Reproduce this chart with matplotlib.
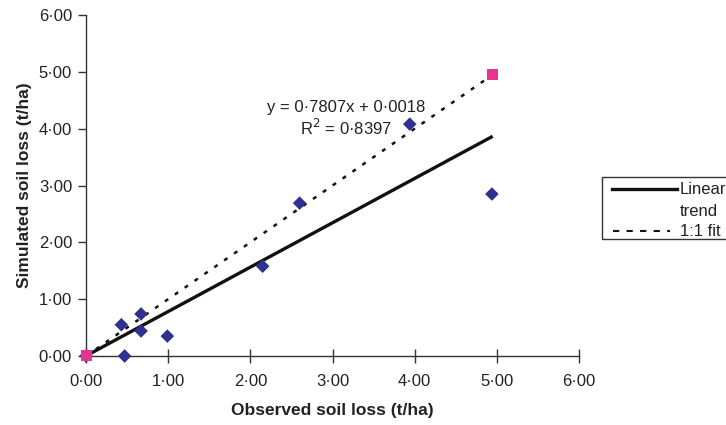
import matplotlib
matplotlib.use("Agg")
import matplotlib.pyplot as plt
from matplotlib.ticker import FuncFormatter, MultipleLocator
from matplotlib.lines import Line2D
from matplotlib.patches import Rectangle
import numpy as np

plt.rcParams['font.family'] = ['Liberation Sans', 'DejaVu Sans']

# Data
observed = [0.00, 0.43, 0.47, 0.67, 0.67, 0.99, 2.15, 2.60, 3.94, 4.94]
simulated = [0.00, 0.55, 0.00, 0.74, 0.44, 0.35, 1.58, 2.69, 4.08, 2.85]
fit_pts_x = [0.01, 4.95]
fit_pts_y = [0.01, 4.96]
slope = 0.7807
intercept = 0.0018
r2 = 0.8397
trend_x = [0.0, 4.95]
one_x = [0.0, 4.95]

W, H = 726, 425
fig = plt.figure(figsize=(W / 100, H / 100), dpi=100)
ax = fig.add_axes([86 / W, 1 - 356 / H, (579 - 86) / W, (356 - 15) / H])

navy = '#2E3192'
pink = '#E8348E'

tx = np.array(trend_x)
ax.plot(tx, slope * tx + intercept, color='#111111', lw=2.4, solid_capstyle='butt', zorder=3)
ax.plot(one_x, one_x, color='#111111', lw=1.8, ls=(0, (1.6, 3.2)), zorder=3)
ax.scatter(observed, simulated, marker='D', s=48, color=navy, edgecolors='none', zorder=4, clip_on=False)
ax.scatter(fit_pts_x, fit_pts_y, marker='s', s=64, color=pink, edgecolors='none', zorder=5, clip_on=False)

ax.set_xlim(0, 6)
ax.set_ylim(0, 6)
fmt = FuncFormatter(lambda v, p: f"{v:.2f}".replace('.', '\u00b7'))
ax.xaxis.set_major_locator(MultipleLocator(1))
ax.yaxis.set_major_locator(MultipleLocator(1))
ax.xaxis.set_major_formatter(fmt)
ax.yaxis.set_major_formatter(fmt)
for s in ['top', 'right']:
    ax.spines[s].set_visible(False)
for s in ['left', 'bottom']:
    ax.spines[s].set_color('#333333')
    ax.spines[s].set_linewidth(1.0)
ax.tick_params(axis='x', direction='inout', length=10, width=1, colors='#333333', labelsize=12, labelcolor='#222222', pad=8)
ax.tick_params(axis='y', direction='out', length=6, width=1, colors='#333333', labelsize=12, labelcolor='#222222', pad=4)
ax.set_xlabel('Observed soil loss (t/ha)', fontsize=12.5, fontweight='bold', color='#222222')
ax.set_ylabel('Simulated soil loss (t/ha)', fontsize=12.5, fontweight='bold', color='#222222')
ax.xaxis.set_label_coords(0.5, (356 - 403) / (356 - 15))
ax.yaxis.set_label_coords((32 - 86) / (579 - 86), 0.5)

ax.text(3.16, 4.37, f"y = {slope:.4f}x + {intercept:.4f}".replace('.', '\u00b7'),
        ha='center', va='center', fontsize=12, color='#222222')
ax.text(3.16, 4.01, f"R$^2$ = {r2:.4f}".replace('.', '\u00b7'),
        ha='center', va='center', fontsize=12, color='#222222')

# Legend box (figure coordinates)
fig.patches.append(Rectangle((602 / W, 1 - 239 / H), (760 - 602) / W, (239 - 177) / H,
                             transform=fig.transFigure, fill=False, edgecolor='#333333', lw=1.0))
fig.lines.append(Line2D([612 / W, 677 / W], [1 - 189 / H] * 2, transform=fig.transFigure,
                        color='#111111', lw=2.4))
fig.lines.append(Line2D([613 / W, 670 / W], [1 - 231 / H] * 2, transform=fig.transFigure,
                        color='#111111', lw=1.5, ls=(0, (3, 3.5))))
fig.text(680 / W, 1 - 189 / H, 'Linear', fontsize=12, va='center', ha='left', color='#222222')
fig.text(680 / W, 1 - 211 / H, 'trend', fontsize=12, va='center', ha='left', color='#222222')
fig.text(680 / W, 1 - 231 / H, '1:1 fit', fontsize=12, va='center', ha='left', color='#222222')

fig.savefig('out.png', dpi=100)
